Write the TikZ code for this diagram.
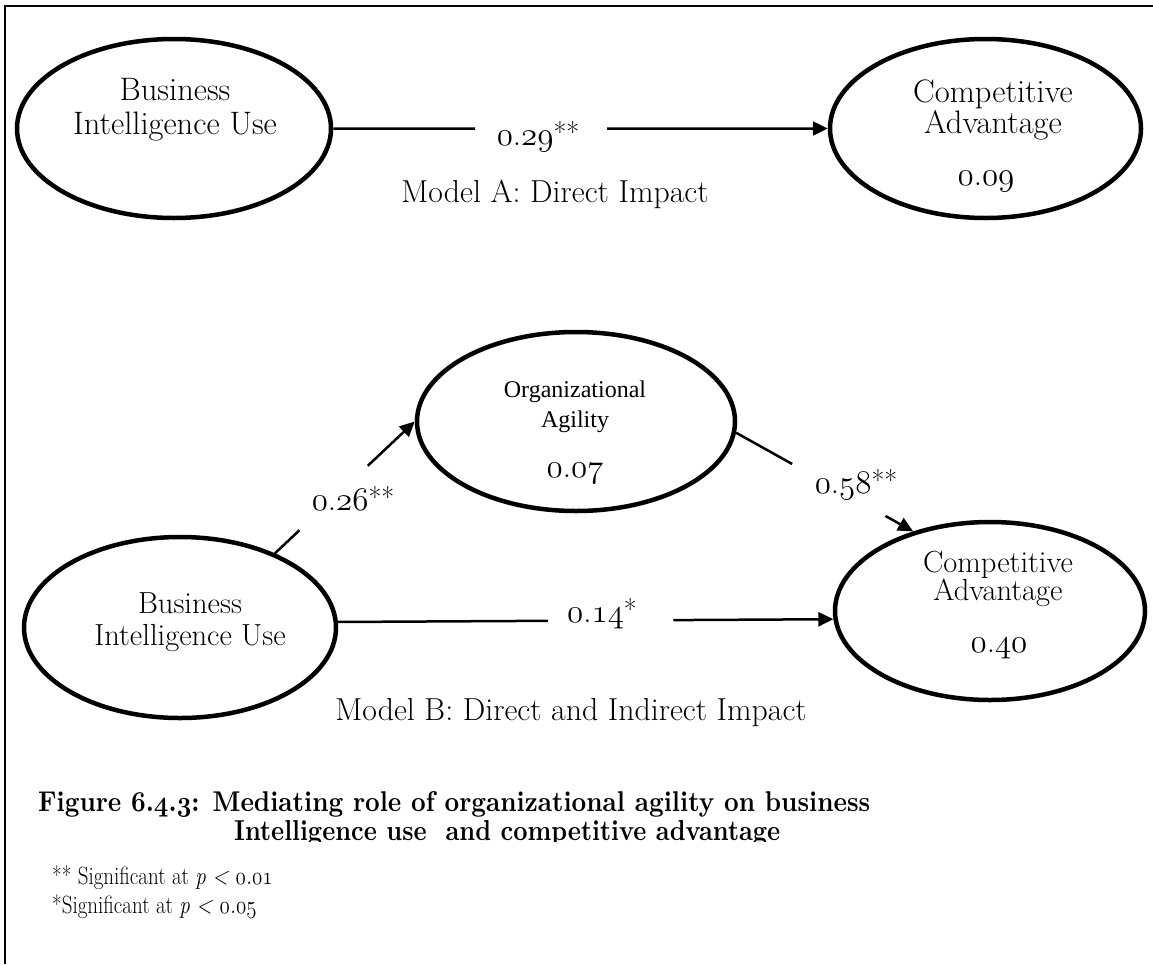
\RequirePackage{fix-cm}
\documentclass[tikz,border=0pt]{standalone}
\usepackage{graphicx}
\usepackage{fontspec}
\newfontfamily\timesfont{Liberation Serif}
\usetikzlibrary{arrows.meta,shapes.geometric,calc}
\newcommand{\osn}[1]{{\fontencoding{OML}\fontfamily{cmm}\fontshape{it}\selectfont #1}}
\newcommand{\dec}[2]{\osn{#1}.\osn{#2}}
\newcommand{\stars}[1]{\raisebox{3pt}{\fontsize{28}{30}\selectfont #1}}
\begin{document}
\begin{tikzpicture}[x=1pt,y=-1pt,
  latent/.style={draw,ellipse,line width=4.5pt,inner sep=0pt},
  txtA/.style={anchor=base,inner sep=0pt,font=\fontsize{32.5}{36}\selectfont},
  txtB/.style={anchor=base,inner sep=0pt,font=\fontsize{30.5}{34}\selectfont},
  txtM/.style={anchor=base,inner sep=0pt,font=\fontsize{31.8}{36}\selectfont},
  txtO/.style={anchor=base,inner sep=0pt,font=\timesfont\fontsize{24}{28}\selectfont},
  coef/.style={anchor=base,inner sep=0pt,font=\fontsize{33}{36}\selectfont},
  link/.style={line width=2.5pt},
  arr/.style={link,-{Triangle[length=15pt,width=14pt]}},
  note/.style={anchor=base west,inner sep=0pt},
]
\useasboundingbox (0,0) rectangle (1153,964);
\draw[line width=2pt] (5,964) -- (5,6) -- (1153,6);

% ---------- Model A ----------
\node[latent,minimum width=314pt,minimum height=179pt] (bi1) at (174,128.5) {};
\node[latent,minimum width=311pt,minimum height=179pt] (ca1) at (985.5,128.5) {};
\node[txtA] (bi1a) at (175,100) {Business};
\node[txtA] (bi1b) at (175,134) {Intelligence Use};
\node[txtA] (ca1a) at (993,102) {Competitive};
\node[txtA] (ca1b) at (993,133) {Advantage};
\node[coef] (ca1c) at (986,185) {\dec{0}{09}};

\coordinate (gA1) at ($(bi1.east)!0.287!(ca1.west)$);
\coordinate (gA2) at ($(bi1.east)!0.554!(ca1.west)$);
\draw[link] (bi1.east) -- (gA1);
\draw[arr] (gA2) -- (ca1.west);
\node[coef] (cA) at (538,145) {\dec{0}{29}\stars{**}};
\node[txtM] (mA) at (555,202) {Model A: Direct Impact};

% ---------- Model B ----------
\node[latent,minimum width=318pt,minimum height=179pt] (oa) at (576,421.5) {};
\node[latent,minimum width=312pt,minimum height=181pt] (bi2) at (180,627.5) {};
\node[latent,minimum width=310pt,minimum height=178pt] (ca2) at (990,611) {};

\node[txtO] (oaa) at (575,397) {Organizational};
\node[txtO] (oab) at (575,427) {Agility};
\node[coef] (oac) at (575,477) {\dec{0}{07}};

\node[txtB] (bi2a) at (190,613) {Business};
\node[txtB] (bi2b) at (190,645) {Intelligence Use};

\node[txtB] (ca2a) at (998,572) {Competitive};
\node[txtB] (ca2b) at (998,600) {Advantage};
\node[coef] (ca2c) at (999,652) {\dec{0}{40}};

% BI -> OA
\coordinate (gB1) at ($(bi2.38)!0.175!(oa.west)$);
\coordinate (gB2) at ($(bi2.38)!0.664!(oa.west)$);
\draw[link] (bi2.38) -- (gB1);
\draw[arr] (gB2) -- (oa.west);
\node[coef] (cB1) at (353,510) {\dec{0}{26}\stars{**}};

% OA -> CA
\coordinate (gC1) at ($(oa.-4)!0.317!(ca2.134)$);
\coordinate (gC2) at ($(oa.-4)!0.844!(ca2.134)$);
\draw[link] (oa.-4) -- (gC1);
\draw[arr] (gC2) -- (ca2.134);
\node[coef] (cB2) at (856,493) {\dec{0}{58}\stars{**}};

% BI -> CA direct
\coordinate (gD1) at ($(bi2.2.4)!0.424!(ca2.183.6)$);
\coordinate (gD2) at ($(bi2.2.4)!0.677!(ca2.183.6)$);
\draw[link] (bi2.2.4) -- (gD1);
\draw[arr] (gD2) -- (ca2.183.6);
\node[coef] (cB3) at (602,622) {\dec{0}{14}\stars{*}};
\node[txtM] (mB) at (571,720) {Model B: Direct and Indirect Impact};

% ---------- caption ----------
\node[note] (cap1) at (38,811) {\resizebox{832pt}{20pt}{\bfseries Figure \osn{6}.\osn{4}.\osn{3}: Mediating role of organizational agility on business}};
\begin{scope}
\clip (0,0) rectangle (1153,841);
\node[note] (cap2) at (234,840) {\resizebox{546pt}{20pt}{\bfseries Intelligence use\ \ and competitive advantage}};
\end{scope}
\node[note] (fn1) at (52,884) {\scalebox{0.84}[1]{\fontsize{25}{28}\selectfont ** Significant at \textit{p} \textit{<} \textit{\dec{0}{01}}}};
\node[note] (fn2) at (52,913) {\scalebox{0.84}[1]{\fontsize{25}{28}\selectfont *Significant at \textit{p} \textit{<} \textit{\dec{0}{05}}}};
\end{tikzpicture}
\end{document}
